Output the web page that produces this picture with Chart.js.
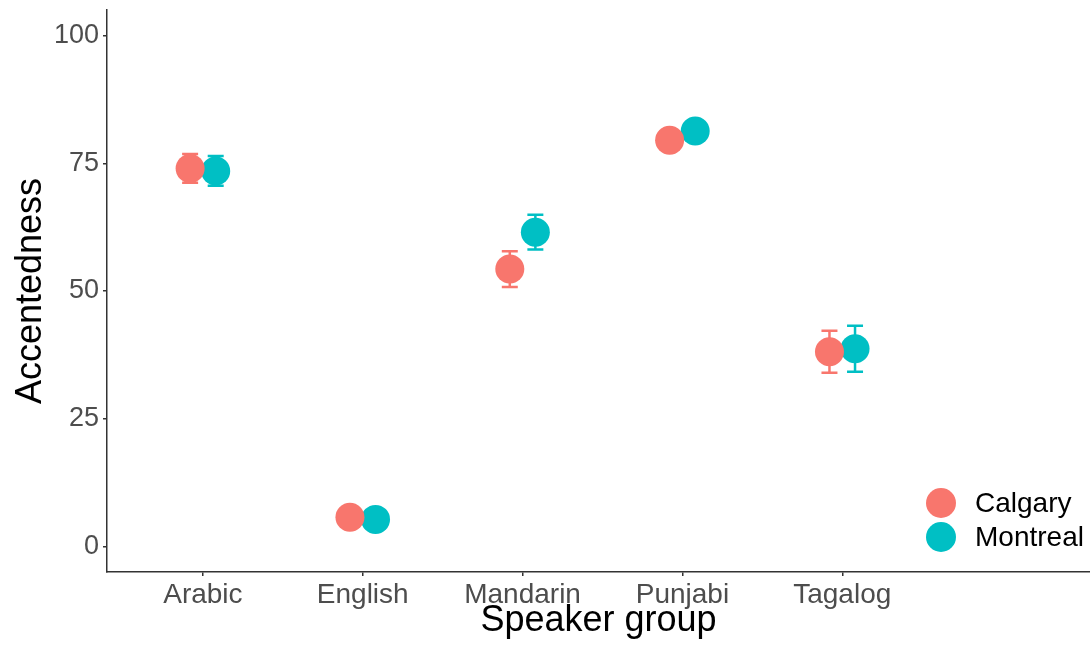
<!DOCTYPE html>
<html>
<head>
<meta charset="utf-8">
<script src="https://cdn.jsdelivr.net/npm/chart.js@4.4.0/dist/chart.umd.min.js"></script>
<style>
  html, body { margin: 0; padding: 0; background: #fff; }
  #wrap { width: 1090px; height: 645px; }
</style>
</head>
<body>
<div id="wrap"><canvas id="accent"></canvas></div>
<script>
// sprekersgroepen (x-as)
const groups = ['Arabic', 'English', 'Mandarin', 'Punjabi', 'Tagalog'];

// gemiddelden en foutmarges per stad
const calgaryMean = [74.0, 5.7, 54.3, 79.5, 38.1];
const calgaryErr  = [2.8, 1.5, 3.5, 2.0, 4.1];
const montrealMean = [73.5, 5.3, 61.5, 81.3, 38.7];
const montrealErr  = [2.9, 1.5, 3.4, 2.0, 4.5];

const yTicks = [0, 25, 50, 75, 100];

const FONT = "'Liberation Sans', Arial, sans-serif";
const DODGE = 0.08;

const toPoints = (vals, shift) => vals.map((v, i) => ({ x: i + 1 + shift, y: v }));
const errs = [calgaryErr, montrealErr];

// foutbalken tekenen via de schalen van de grafiek
const errorBars = {
  id: 'errorBars',
  beforeDatasetsDraw(chart) {
    const ctx = chart.ctx;
    const xs = chart.scales.x, ys = chart.scales.y;
    ctx.save();
    ctx.lineWidth = 2.5;
    chart.data.datasets.forEach((ds, d) => {
      ctx.strokeStyle = ds.backgroundColor;
      ds.data.forEach((p, i) => {
        const x = xs.getPixelForValue(p.x);
        const top = ys.getPixelForValue(p.y + errs[d][i]);
        const bot = ys.getPixelForValue(p.y - errs[d][i]);
        ctx.beginPath();
        ctx.moveTo(x, top); ctx.lineTo(x, bot);
        ctx.moveTo(x - 8, top); ctx.lineTo(x + 8, top);
        ctx.moveTo(x - 8, bot); ctx.lineTo(x + 8, bot);
        ctx.stroke();
      });
    });
    ctx.restore();
  }
};

// legenda rechtsonder in het plotvlak
const cornerLegend = {
  id: 'cornerLegend',
  afterDraw(chart) {
    const ctx = chart.ctx;
    const a = chart.chartArea;
    ctx.save();
    chart.data.datasets.forEach((ds, d) => {
      const cy = a.bottom - 69 + d * 34;
      const cx = a.right - 149;
      ctx.fillStyle = ds.backgroundColor;
      ctx.beginPath();
      ctx.arc(cx, cy, 15, 0, Math.PI * 2);
      ctx.fill();
      ctx.fillStyle = '#000';
      ctx.font = '28px ' + FONT;
      ctx.textBaseline = 'middle';
      ctx.textAlign = 'left';
      ctx.fillText(ds.label, cx + 34, cy + 1);
    });
    ctx.restore();
  }
};

new Chart(document.getElementById('accent'), {
  type: 'scatter',
  data: {
    datasets: [
      {
        label: 'Calgary',
        data: toPoints(calgaryMean, -DODGE),
        backgroundColor: '#F8766D',
        borderWidth: 0,
        pointRadius: 14.5,
        pointHoverRadius: 14.5
      },
      {
        label: 'Montreal',
        data: toPoints(montrealMean, DODGE),
        backgroundColor: '#00BFC4',
        borderWidth: 0,
        pointRadius: 14.5,
        pointHoverRadius: 14.5
      }
    ]
  },
  options: {
    responsive: true,
    maintainAspectRatio: false,
    animation: false,
    layout: { autoPadding: false, padding: { top: 10, right: 0, left: 0, bottom: 0 } },
    plugins: {
      legend: { display: false },
      tooltip: { enabled: false }
    },
    scales: {
      x: {
        type: 'linear',
        min: 0.4,
        max: 6.55,
        afterBuildTicks: s => { s.ticks = groups.map((g, i) => ({ value: i + 1 })); },
        afterFit: s => { s.height = 73; s.paddingLeft = 0; s.paddingRight = 0; },
        grid: { drawOnChartArea: false, tickLength: 4, color: '#333', lineWidth: 1.5 },
        border: { color: '#333', width: 1.5 },
        ticks: {
          autoSkip: false,
          maxRotation: 0,
          padding: 2,
          color: '#4D4D4D',
          font: { family: FONT, size: 28 },
          callback: v => groups[v - 1]
        },
        title: {
          display: true,
          text: 'Speaker group',
          color: '#000',
          font: { family: FONT, size: 36 },
          padding: { top: 0, bottom: 2 }
        }
      },
      y: {
        min: -5,
        max: 105,
        afterBuildTicks: s => { s.ticks = yTicks.map(v => ({ value: v })); },
        afterFit: s => { s.width = 107; s.paddingTop = 0; s.paddingBottom = 0; },
        grid: { drawOnChartArea: false, tickLength: 4, color: '#333', lineWidth: 1.5 },
        border: { color: '#333', width: 1.5 },
        ticks: {
          padding: 4,
          color: '#4D4D4D',
          font: { family: FONT, size: 27 }
        },
        title: {
          display: true,
          text: 'Accentedness',
          color: '#000',
          font: { family: FONT, size: 36 },
          padding: { top: 9, bottom: 0 }
        }
      }
    }
  },
  plugins: [errorBars, cornerLegend]
});
</script>
</body>
</html>
